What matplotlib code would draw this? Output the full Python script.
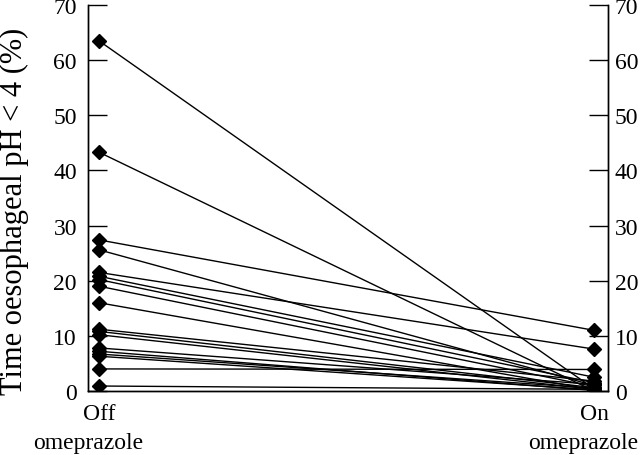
import numpy as np
import matplotlib
matplotlib.use("Agg")
import matplotlib.pyplot as plt

plt.rcParams.update({"font.family": "Liberation Serif", "font.size": 17})

# time oesophageal pH < 4 (%) per patient, off and on omeprazole
OFF = [63.5, 43.3, 27.4, 25.6, 21.5, 20.8, 20.2, 19.0, 16.0,
       11.2, 10.8, 10.2, 7.8, 7.2, 6.7, 6.3, 4.0, 0.9]
ON = [0.4, 0.0, 11.0, 1.0, 7.6, 2.5, 1.5, 0.8, 0.2,
      1.8, 0.6, 0.3, 1.2, 0.1, 0.5, 0.2, 3.9, 0.3]
XLABELS = ["Off", "On"]
SUBLABEL = "omeprazole"
YTICKS = [0, 10, 20, 30, 40, 50, 60, 70]

fig = plt.figure(figsize=(6.4, 4.56), dpi=100)
ax = fig.add_axes([0.1375, 0.1404, 0.8125, 0.8464])

for a, b in zip(OFF, ON):
    ax.plot([0, 1], [a, b], color="black", lw=1.0,
            marker="D", ms=7.2, mfc="black", mec="black")

ax.set_xlim(-0.0223, 1.0284)
ax.set_ylim(0, 70)
ax.set_yticks(YTICKS)
ax.set_xticks([0, 1])
ax.set_xticklabels(XLABELS)
ax.tick_params(axis="x", length=0, pad=9)
ax.tick_params(axis="y", direction="in", length=14, width=1, pad=8)
for x in (0, 1):
    ax.annotate(SUBLABEL, xy=(x, 0), xycoords=("data", "axes fraction"),
                xytext=(-8, -37), textcoords="offset points",
                ha="center", va="center", fontsize=17)

# right-hand axis, same scale
ax2 = ax.twinx()
ax2.set_ylim(0, 70)
ax2.set_yticks(YTICKS)
ax2.tick_params(axis="y", direction="in", length=14, width=1, pad=5)

for a in (ax, ax2):
    a.spines["top"].set_visible(False)
    for s in a.spines.values():
        s.set_linewidth(1)
ax.set_ylabel("Time oesophageal pH < 4 (%)", fontsize=22)
ax.yaxis.set_label_coords(-0.113, 0.469)

fig.savefig("out.png", dpi=100)
